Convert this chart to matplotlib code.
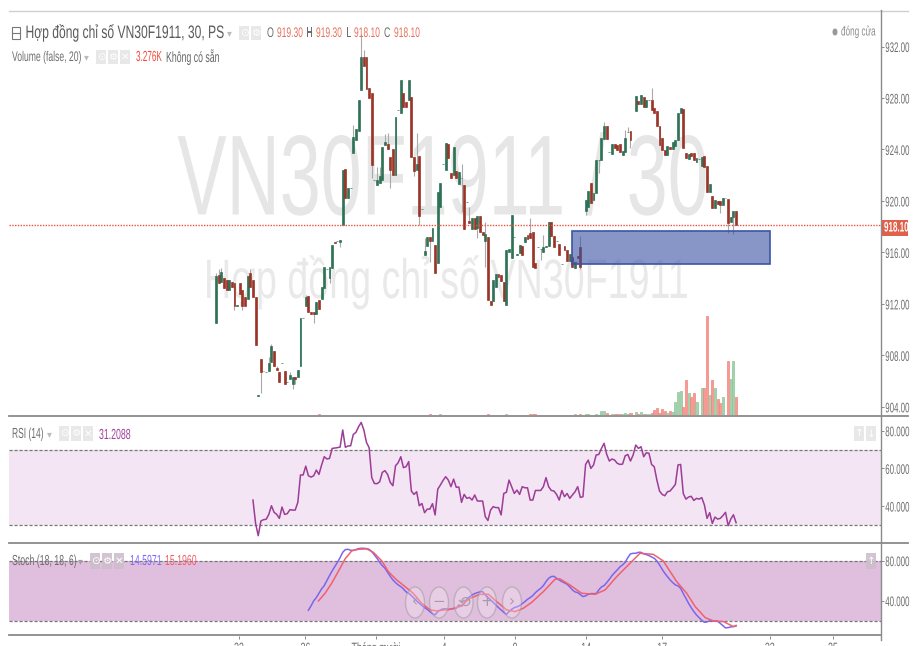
"""Candlestick chart with volume, RSI and Stoch panes (TradingView style)."""
import numpy as np
import matplotlib
matplotlib.use("Agg")
import matplotlib.pyplot as plt
from matplotlib.patches import Rectangle, Ellipse
from matplotlib.patheffects import AbstractPathEffect
from matplotlib.transforms import Affine2D, Bbox

W, H = 920, 646
nan = float("nan")
plt.rcParams["font.family"] = ["Liberation Sans", "DejaVu Sans"]

opens = [
    910.54, 914.24, 913.7, 914, 913.85, 913.1, 913.7, 913.6, 911.85, 913.6,
    913.1, 912.5, 912.35, 914.4, 913.85, 912.55,
    904.85, 907.7, 906.8, 906.7, 906.8, 907.5, 908.35, 907.05, 906.7, 907.4,
    906.8, 905.9, 906.2, 905.8, 906.35, 906.3, 907.2, 910.9, 911.8, 912.6,
    911.4, 911.4, 911.25, 912.3, 912.35, 913.2, 914.7, 914.05, 914.8, 916.83,
    916.85, 916.8, 918.13, 922.47, 920.25, 921.03, 923.7, 924.75, 925.4, 928.6,
    931.15, 931.15, 928.8, 928.35, 921.6, 921.25, 921.4, 921.6, 924.35, 924.4,
    923.4, 924, 922, 927.07, 926.8, 928.35, 927.7, 927.85, 928.05, 923.44,
    922.4, 923.5, 919.37, 915.8, 916.5, 917.2, 916.85, 916.55, 915.15, 919.55,
    922.85, 922.4, 924.4, 922.15, 922, 922.35, 921.35, 921.8, 921.25, 919.9,
    918.44, 917.8, 918.7, 917.9, 918.8, 917.6, 916.9, 917.2, 912.2, 912.2,
    913.33, 914.3, 914.25, 913.7, 911.9, 916.05, 915.6, 917.2, 915.8, 915.98,
    916.5, 916.8, 917.35, 917.5, 917.6, 915.15, 916.4, 916.3, 916.05, 916.4,
    916.5, 918.4, 917.27, 916.9, 916.65, 915.1, 916.5, 916.2, 915.35, 915.66,
    914.8, 915.7, 916.4, nan, 919.24, 919.5, 921.4, 920.07, 920.58, 923.17,
    923.18, 924.8, 925.83, 923.83, 923.65, 924.4, 924.35, 924.4, 923.57, 923.83,
    925.38, 925.46, nan, 927.02, 927.8, 927.53, 928.05, 927.28, 927.85, 927.85,
    927.2, 927, 925.83, 924.87, 923.96, 923.57, 924.2, 924.04, 924.3, 924.74,
    926.8, 927.12, 923.7, 923.23, 923.7, 923.7, 923.05, 923.23, 922.72, 923.5,
    922.72, 920.72, 920.38, 919.43, 920, 920, 919.68, 920.2, 920.13, 918.4,
    918.78, 919.2,
]
closes = [
    914.17, 913.65, 914.5, 913.2, 913.1, 913.85, 913.3, 911.85, 911.9, 912.8,
    911.8, 911.8, 914.15, 913.3, 912.55, 908.8,
    904.9, 906.7, 906.8, 906.7, 907.4, 908.7, 907.2, 906.85, 905.9, 907.4,
    905.8, 905.9, 906.45, 906.3, 906.15, 906.9, 910.9, 910.9, 912.55, 911.4,
    911.2, 911.25, 912.15, 911.6, 913.3, 914.85, 914.7, 914.85, 916.55, 916.7,
    916.85, 917, 922.4, 920.25, 921.03, 921.03, 925, 925.6, 927.85, 931.2,
    930.5, 928.67, 928, 922.8, 921.6, 921.6, 921.9, 924.2, 924.6, 924,
    922.4, 922, 926.5, 927.07, 929.4, 927.3, 927.3, 929.4, 923.44, 922.3,
    922.85, 918.8, 919.37, 916.1, 917.2, 916.85, 917.9, 914.4, 920.7, 921.4,
    922.85, 924.5, 923.3, 921.8, 924.2, 921.75, 922.25, 921.8, 917.8, 919.9,
    918.26, 918.7, 917.8, 918.85, 917.6, 917.35, 917.4, 912.3, 911.9, 913.85,
    914.3, 914.1, 913.8, 912.25, 916.2, 916.25, 918.9, 917.2, 915.9, 916.57,
    915.8, 917.2, 917.04, 917.1, 914.85, 914.8, 916.4, 916.3, 916.4, 916.5,
    918.4, 917.27, 916.4, 916.9, 915.8, 915.1, 916.18, 915.35, 915.87, 914.84,
    915.28, 915.53, 914.9, nan, 920.07, 920.8, 919.86, 920.6, 923.17, 923.17,
    924.87, 925.8, 924.8, 923.83, 924.4, 924.1, 923.95, 923.78, 923.9, 924.87,
    925.38, 924.74, nan, 928.15, 927.53, 928.23, 927.28, 927.85, 927.85, 927.07,
    926.8, 925.83, 924.35, 923.96, 923.57, 924.27, 924.04, 924.6, 924.74, 926.86,
    927.2, 924.09, 923.3, 923.65, 923.5, 923.18, 923.3, 923.23, 923.4, 922.66,
    920.72, 921.3, 919.43, 920.07, 919.76, 919.68, 920.2, 920.2, 918.31, 918.78,
    919.24, 918.1,
]
# wick ends, only where the wick sticks out of the body
wick_highs = {0: 914.4, 1: 914.7, 2: 914.8, 13: 914.7, 20: 907.85, 21: 908.9,
              23: 907.2, 28: 906.7, 34: 912.7, 52: 925.9, 55: 933.0, 56: 931.7,
              61: 922.67, 62: 922.67, 64: 925.2, 65: 925.25, 76: 925.25,
              79: 917.15, 93: 922.85, 96: 919.55, 102: 918.38, 119: 918.64,
              124: 917.35, 138: 917.3, 147: 926.1, 155: 925.5, 156: 925.77,
              165: 928.75}
wick_lows = {7: 911.5, 10: 911.5, 17: 905.05, 29: 905.35, 30: 905.8, 37: 910.5,
             43: 913.6, 47: 916.45, 59: 921.75, 66: 921.03, 75: 921.9,
             77: 918.13, 81: 915.28, 93: 919.17, 99: 917.15, 102: 914.9,
             123: 915.4, 138: 914.7, 140: 918.9, 145: 922.14, 157: 924.1,
             191: 919.04, 194: 917.53, 196: 917.43}

volume_idx = [39, 81, 85, 103, 110, 119, 120, 121, 136, 138, 140, 141, 144, 146,
              147, 148, 150, 151, 152, 153, 154, 155, 156, 157, 159, 160, 161,
              162, 163, 164, 165, 166, 167, 168, 169, 170, 171, 172, 173, 174,
              175, 176, 177, 178, 179, 180, 181, 182, 184, 185, 186, 187, 188,
              189, 190, 191, 192, 194, 195, 196, 197]
volume_k = [0.2, 0.2, 0.2, 0.2, 0.2, 0.2, 0.2, 0.2, 0.2, 0.2, 0.2, 0.2, 0.2, 0.65,
            0.8, 0.35, 0.2, 0.2, 0.2, 0.2, 0.2, 0.35, 0.25, 0.35, 0.6, 0.2, 0.6,
            0.2, 0.2, 0.1, 0.3, 0.9, 1.2, 0.4, 1.0, 0.7, 0.4, 0.7, 0.5, 2.4,
            4.1, 4.3, 1.4, 6.2, 3.9, 3.3, 3.9, 2.3, 4.9, 4.76, 17.7, 3.5, 6.2,
            4.76, 2.8, 2.2, 3.3, 9.7, 6.4, 9.7, 3.276]

rsi = [
    43.2, 30.8, 24.3, 32.1, 32.8, 33, 35.6, 40.2, 36.7, 35.6, 33.5, 39.5, 35.6, 36,
    38.1, 37.9, 37.9, 42, 56.5, 56.5, 61.2, 56.1, 55.4, 56.1, 59.1, 56.8, 61.8,
    66.2, 65, 65.3, 70.6, 70.8, 71, 71.3, 80.4, 71.2, 71.9, 72, 78, 79.1, 82.1,
    84.4, 80.4, 73.8, 71, 55.1, 52, 51.9, 52.9, 57.9, 58.8, 56.8, 52.6, 50.8, 61.4,
    63, 66.2, 60.4, 60.9, 63.6, 48, 46.2, 47.6, 40.2, 41.4, 36.5, 38.4, 38.4, 41.3,
    35.3, 49, 51.2, 53.6, 55.6, 53.8, 50.3, 54.3, 50, 50.1,
    42, 46.2, 44.1, 44.6, 43.2, 45.9, 42.7, 42.7, 42.7, 34.4, 32.4, 37.9, 39.7,
    39.2, 39.2, 35.3, 46.7, 47.3, 53.8, 50.3, 46.7, 48.5, 46.2, 50.3, 49.7, 49.7,
    43.2, 43.2, 48.3, 48.3, 48.3, 50.3, 55.1, 50.3, 48.3, 48, 46.2, 43.2, 48.3, 45,
    46.7, 44.1, 45.9, 47.6, 50.3, 44.6, 45, 62.1, 64.4, 60, 61.8, 67.1, 67.4, 70.6,
    73.3, 67.4, 63.9, 65, 64.4, 62.7, 62.1, 62.3, 66.7, 67.4, 63.9, 67.1, 72.4,
    70.6, 71.5, 66.2, 68.3, 68, 62.1, 60.9, 53.8, 48, 46.2, 45.5, 47.6, 48, 49.7,
    51.5, 61.8, 62.1, 46.7, 43.7, 44.8, 45.2, 43, 44.1, 43.7, 44.5, 40.6, 33.5,
    36.5, 30.8, 34.2, 33.1, 33.5, 34.9, 36.7, 29.6, 33.1, 35.4, 31.2,
]
stoch_k = [
    30.3, 34.7, 39.7, 43, 47.3, 51.7, 55, 60, 65, 69.7, 74, 78.3, 83, 88.3, 91, 91.3,
    90.3, 90.3, 91, 92, 92.3, 92.3, 92, 91.3, 89, 85.7, 82.3, 78.3, 75, 72.3, 68.3,
    64.3, 60.7, 58, 55.7, 54, 51.7, 48.7, 47.3, 45, 42.3, 39.7, 37.3, 35, 33, 31.3,
    29, 27, 25.7, 29, 30.7, 31.7, 31.7, 31, 31.7, 32, 32.3, 35.7,
    34.3, 37.3, 41.3, 43.7, 45.7, 47, 48, 48.7, 49, 45.7, 43, 40.7, 38.3, 35.7, 33,
    30.7, 28.3, 26.3, 29, 31.3, 33, 33.7, 35, 37, 39, 41.3, 43, 45, 48, 50.3, 52.3,
    55, 59, 62.3, 64, 64.3, 62.3, 60.7, 59, 57.7, 56.3, 53.7, 50.7, 48.7, 48, 46, 44,
    44.7, 46.3, 47, 47, 47, 50.7, 53.7, 55, 58, 61.3, 65, 68, 70.7, 73.7, 75.7, 78.3,
    83, 86.7, 87.3, 87.3, 88.3, 88.3, 86.7, 86, 85, 83.7, 82.3, 79.7, 75.7, 71.3,
    67.3, 64, 60.7, 58, 55.7, 54.7, 52.3, 47, 42.3, 37.3, 33, 29, 25.7, 23, 20.3,
    18.3, 18.7, 19.7, 19.7, 19.7, 19.3, 17.3, 15, 12.7, 13, 13.7, 14, 14.5971,
]
stoch_d_idx = [38.8, 41.3, 43.8, 46.3, 48.9, 51.4, 53.9, 57, 59.6, 62.8, 65.3, 68.4,
               71.6, 74.7, 77.9, 81.1, 83.6, 88.6, 92.4, 96.2, 100, 103.2, 106.3,
               110.1, 113.3, 116.4, 119.6, 124, 128.4, 130.3, 134, 138.5, 143.6,
               147.4, 151.8, 156.8, 160.6, 165.6, 169.4, 174.5, 178.3, 181.5,
               185.3, 188.4, 192.2, 196, 197]
stoch_d = [39.7, 47.3, 57.3, 69, 81.7, 89.7, 91.3, 91.7, 88.3, 79.7, 69, 60.7, 54,
           47.3, 37.3, 30.7, 29.7, 31.3, 34, 42.3, 46.3, 46.3, 39, 30.7, 29, 32.3,
           38.3, 49, 61.3, 61.7, 55.7, 47.3, 46.3, 50.7, 64, 77.3, 87.3, 86.3, 79.7,
           59, 47.3, 34, 23, 19.7, 19, 14, 15.196]

price_ticks = [904, 908, 912, 916, 920, 924, 928, 932]
rsi_ticks = [40, 60, 80]
stoch_ticks = [40, 80]
time_ticks = [8.7, 33.9, 60.6, 86.4, 113.3, 140.2, 169, 209.8, 233.7]
time_labels = ["23", "26", "Tháng mười", "4", "9", "14", "17", "23", "25"]

# pixel <-> data anchors
CANDLE_X0, CANDLE_DX = 216.0, 2.64
PANE_L, PANE_R = 9, 881
AXIS_GREY = "#8a8a8a"
TXT = "#6e6e6e"
GREEN, RED = "#286f52", "#992f22"
SQUEEZE = 0.64  # the screenshot was squeezed sideways, its text is condensed


class Squeeze(AbstractPathEffect):
    """Scale the glyph outlines of a text horizontally about device x0."""

    def __init__(self, sx, x0):
        super().__init__()
        self.sx, self.x0 = sx, x0

    def draw_path(self, renderer, gc, tpath, affine, rgbFace=None):
        tr = affine + Affine2D().translate(-self.x0, 0).scale(self.sx, 1).translate(self.x0, 0)
        renderer.draw_path(gc, tpath, tr, rgbFace)


def condense(t, x0, sx=SQUEEZE):
    t.set_path_effects([Squeeze(sx, x0)])
    orig = t.get_window_extent

    def extent(renderer=None, dpi=None):
        b = orig(renderer, dpi)
        return Bbox.from_extents(x0 + (b.x0 - x0) * sx, b.y0, x0 + (b.x1 - x0) * sx, b.y1)

    t.get_window_extent = extent
    return t


def pane(top, bottom):
    ax = fig.add_axes([PANE_L / W, 1 - bottom / H, (PANE_R - PANE_L) / W, (bottom - top) / H])
    ax.set_xlim((PANE_L - CANDLE_X0) / CANDLE_DX, (PANE_R - CANDLE_X0) / CANDLE_DX)
    ax.patch.set_alpha(0)
    for s in ax.spines.values():
        s.set_visible(False)
    ax.tick_params(axis="x", bottom=False, labelbottom=False)
    ax.yaxis.tick_right()
    ax.tick_params(axis="y", length=2.2, width=0.7, color=AXIS_GREY, labelcolor=TXT,
                   labelsize=10, pad=1)
    return ax


def right_labels(ax, ticks, fmt):
    ax.set_yticks(ticks)
    ax.set_yticklabels([fmt.format(v) for v in ticks])
    for lab in ax.get_yticklabels():
        condense(lab, 885, 0.57)


fig = plt.figure(figsize=(W / 100, H / 100), dpi=100, facecolor="white")

# overlay in pixel coordinates for the chart furniture
ui = fig.add_axes([0, 0, 1, 1], zorder=10)
ui.set_xlim(0, W)
ui.set_ylim(H, 0)
ui.axis("off")
ui.patch.set_alpha(0)

# ---------------------------------------------------------------------------
# Main pane
# ---------------------------------------------------------------------------
ax = pane(10, 415)
ax.set_ylim(932 - (415 - 46.5) / 12.87, 932 + (46.5 - 10) / 12.87)
right_labels(ax, price_ticks, "{:.2f}")

wm = ax.text(443, 214.5, "VN30F1911 / 30", transform=ui.transData, ha="center", va="baseline",
             fontsize=82, color="#e6e6e6", zorder=0)
condense(wm, 443, 0.647)
wm = ax.text(446, 298, "Hợp đồng chỉ số VN30F1911", transform=ui.transData, ha="center",
             va="baseline", fontsize=40, color="#e9e9e9", zorder=0)
condense(wm, 446, 0.678)

o = np.array(opens)
c = np.array(closes)
idx = np.arange(len(o))
hi = np.maximum(o, c)
lo = np.minimum(o, c)
for k, v in wick_highs.items():
    hi[k] = v
for k, v in wick_lows.items():
    lo[k] = v
is_up = c >= o
ax.vlines(idx, lo, hi, color="#a9a9a9", lw=0.8, zorder=2)
ax.bar(idx, np.abs(c - o), bottom=np.minimum(o, c), width=0.72,
       color=[GREEN if u else RED for u in is_up],
       edgecolor=[GREEN if u else RED for u in is_up], lw=0.5, alpha=0.95, zorder=3)

ax.axhline(closes[-1], color="#e8513f", lw=1, ls=(0, (1, 1)), zorder=4)
ax.add_patch(Rectangle((135, 915.1), 74.7, 2.56, facecolor=(56 / 255, 81 / 255, 163 / 255, 0.6),
                       edgecolor="#3c55a5", lw=1.2, zorder=5))

vol = pane(10, 415)
vol.set_ylim(0, 405 / 5.6)
vol.set_yticks([])
vol_colors = ["#f79a95" if closes[i] < opens[i] else "#a3d3ac" for i in volume_idx]
vol_edges = ["#f4837c" if closes[i] < opens[i] else "#8cc598" for i in volume_idx]
vol.bar(volume_idx, volume_k, width=0.8, color=vol_colors, edgecolor=vol_edges, lw=0.5)

# ---------------------------------------------------------------------------
# RSI pane
# ---------------------------------------------------------------------------
ax_rsi = pane(416, 542)
ax_rsi.set_ylim(80 - (542 - 430.7) / 1.885, 80 + (430.7 - 416) / 1.885)
right_labels(ax_rsi, rsi_ticks, "{:.3f}")
ax_rsi.axhspan(30, 70, color="#f3e5f3", lw=0)
for lvl in (30, 70):
    ax_rsi.axhline(lvl, color="#777777", lw=0.9, ls=(0, (2.5, 1.5)))
ax_rsi.plot(np.arange(len(opens) - len(rsi), len(opens)), rsi, color="#9c3d97", lw=1.1)

# ---------------------------------------------------------------------------
# Stoch pane
# ---------------------------------------------------------------------------
ax_st = pane(544, 634)
ax_st.set_ylim(80 - (634 - 560.6), 80 + (560.6 - 544))
right_labels(ax_st, stoch_ticks, "{:.3f}")
ax_st.axhspan(20, 80, color="#e0bedd", lw=0)
for lvl in (20, 80):
    ax_st.axhline(lvl, color="#777777", lw=0.9, ls=(0, (2.5, 1.5)))
ax_st.plot(np.arange(len(opens) - len(stoch_k), len(opens)), stoch_k, color="#7a66ee", lw=1.1)
ax_st.plot(stoch_d_idx, stoch_d, color="#f0616d", lw=1.1)

# time axis: its labels are cut by the lower edge, as in the screenshot
ax_t = pane(635, 638.5)
ax_t.set_yticks([])
ax_t.set_xticks(time_ticks)
ax_t.set_xticklabels(time_labels)
ax_t.tick_params(axis="x", bottom=True, labelbottom=True, length=2.5, width=0.7,
                 color=AXIS_GREY, labelcolor=TXT, labelsize=10, direction="in", pad=2)
for lab, tk in zip(ax_t.get_xticklabels(), time_ticks):
    condense(lab, CANDLE_X0 + tk * CANDLE_DX)

# ---------------------------------------------------------------------------
# Frame lines
# ---------------------------------------------------------------------------
ui.plot([9, 908], [10.5, 10.5], color="#cfcfcf", lw=1)
ui.plot([9, 908], [415.5, 415.5], color=AXIS_GREY, lw=1.3)
ui.plot([9, 908], [543, 543], color=AXIS_GREY, lw=1.3)
ui.plot([9, 881], [635, 635], color=AXIS_GREY, lw=1.3)
ui.plot([881, 881], [10, 640], color=AXIS_GREY, lw=1)


def text(x, y, s, color=TXT, size=10, sx=SQUEEZE, **kw):
    t = ui.text(x, y, s, color=color, fontsize=size, va="center", **kw)
    return condense(t, x, sx)


def buttons(xs, top, bottom, glyphs, width=10.5, color="#e6e6e6"):
    for x, g in zip(xs, glyphs):
        ui.add_patch(Rectangle((x, top), width, bottom - top, facecolor=color, lw=0, alpha=0.9))
        ui.text(x + width / 2, (top + bottom) / 2, g, color="white", fontsize=7.5, ha="center",
                va="center", family="DejaVu Sans")


def arrow(x, y, color="#bbbbbb"):
    ui.text(x, y, "▾", color=color, fontsize=7, ha="center", va="center", family="DejaVu Sans")


# Legend rows
ui.add_patch(Rectangle((12.5, 27), 8, 12, fill=False, edgecolor="#777777", lw=0.8))
ui.plot([12.5, 20.5], [33, 33], color="#777777", lw=0.8)
text(25.5, 33, "Hợp đồng chỉ số VN30F1911, 30, PS", color="#5a5a5a", size=13, sx=0.67)
arrow(229, 33)
buttons([239, 251], 26, 40, "⊙⚙")
for x, lab, val in [(267, "O", "919.30"), (306, "H", "919.30"), (346, "L", "918.10"), (384, "C", "918.10")]:
    text(x, 33, lab, size=10)
    text(x + 10 if lab != "L" else x + 8, 33, val, color="#e5705c", size=10, sx=0.61)

text(12, 57, "Volume (false, 20)", size=10, sx=0.62)
arrow(86, 57)
buttons([96, 108, 120], 50, 64, "⊙⚙✕")
text(136, 57, "3.276K", color="#f4483a", size=10.5, sx=0.56)
text(166, 57, "Không có sẵn", color="#666666", size=10.5, sx=0.6)

ui.add_patch(Ellipse((835, 32), 5, 7, facecolor="#999999", lw=0))
text(841, 32, "đóng cửa", color="#8c8c8c", size=9.5, sx=0.62)

text(12, 434, "RSI (14)", size=10.5, sx=0.58)
arrow(49, 434)
buttons([59, 71, 83], 426, 441, "⊙⚙✕")
text(99, 435, "31.2088", color="#a0429a", size=10.5, sx=0.6)
buttons([854, 866], 426, 441, "↑↓")

text(12, 561, "Stoch (18, 18, 6)", size=10.5, sx=0.6)
arrow(80, 561, "#a99aa8")
buttons([90, 102, 114], 553, 569, "⊙⚙✕", color="#cdbecb")
text(130, 561, "14.5971", color="#7d6cf0", size=10.5, sx=0.6)
text(165, 561, "15.1960", color="#f0616d", size=10.5, sx=0.6)
buttons([866], 553, 569, "↑", color="#cdbecb")

# Last price marker
ui.add_patch(Rectangle((881, 219.5), 27, 16.5, facecolor="#e0604a", lw=0))
text(884, 227.5, "918.10", color="white", size=10, sx=0.58, fontweight="bold")

# Navigation buttons over the Stoch pane
for x, glyph in zip((415, 439, 463.5, 487, 512), ("‹", "−", "⟲", "+", "›")):
    ui.add_patch(Ellipse((x, 602.5), 19, 31, facecolor=(1, 1, 1, 0.25),
                         edgecolor=(0.6, 0.6, 0.6, 0.5), lw=1))
    ui.text(x, 602, glyph, color="#a89aa8", fontsize=11, ha="center", va="center",
            family="DejaVu Sans")

fig.savefig("out.png", dpi=100)
plt.close(fig)
